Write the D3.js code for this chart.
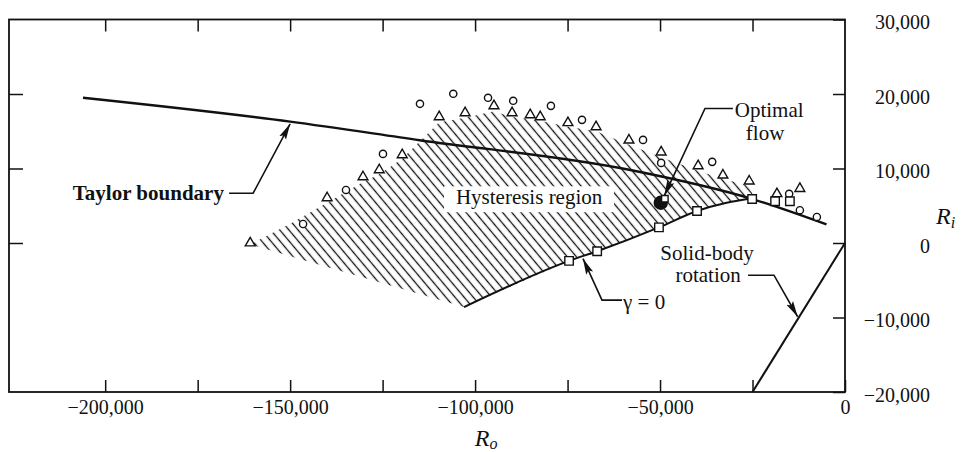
<!DOCTYPE html>
<html lang="en">

<head>
    <meta charset="utf-8" />
    <title>Hysteresis region between Taylor boundary and solid-body rotation</title>
    <script src="https://d3js.org/d3.v7.min.js"></script>
    <style>
        body {
            margin: 0;
            background: #fff;
        }

        svg {
            display: block;
            font-family: "Liberation Serif", "Times New Roman", serif;
        }

        .axis text {
            font-family: "Liberation Serif", "Times New Roman", serif;
            font-size: 20px;
            fill: #111;
        }

        .axis line {
            stroke: #111;
            stroke-width: 1.5;
        }

        .axis .domain {
            display: none;
        }

        .note {
            font-size: 21px;
            fill: #111;
        }
    </style>
</head>

<body>
    <script>
        // Data (R_o, R_i)
        const taylorBoundary = [[-206000, 19500], [-150000, 16300], [-115000, 13800], [-58000, 9800], [-25000, 5900], [-5000, 2500]];
        const gammaZeroCurve = [[-103000, -8600], [-74600, -2400], [-67000, -1100], [-50300, 2100], [-40000, 4300], [-32000, 5400], [-25000, 6000]];
        const solidBody = [[-25000, -20000], [0, 0]];

        const squares = [[-74600, -2400], [-67000, -1100], [-50300, 2100], [-40000, 4300], [-25100, 5900], [-18900, 5600], [-14900, 5600]];
        const triangles = [[-160800, 0], [-140000, 6050], [-130300, 8870], [-125900, 9810], [-119700, 11830], [-109700, 16930],
            [-102700, 17470], [-94900, 18410], [-90000, 17470], [-85100, 17200], [-82400, 16930], [-74900, 16130], [-67300, 15590],
            [-58400, 13800], [-49700, 12200], [-39700, 10350], [-33000, 9100], [-25900, 8300], [-18400, 6600], [-12200, 7300]];
        const circles = [[-146500, 2550], [-134900, 7120], [-124900, 11960], [-114900, 18680], [-105900, 20030], [-96500, 19490],
            [-89700, 19090], [-79500, 18410], [-71100, 16530], [-54600, 13840], [-49700, 10750], [-35900, 10890], [-15100, 6600],
            [-12200, 4400], [-7600, 3500]];
        const optimalFlow = [[-49800, 5400]];
        const optimalSquare = [[-48700, 5950]];

        // upper edge of the hatched hysteresis region
        const hysteresisUpper = [[-160800, -200], [-150000, 2600], [-140000, 5400], [-130300, 8200], [-126000, 9200], [-119700, 11300],
            [-109700, 16200], [-102700, 16800], [-94900, 17700], [-90000, 16900], [-82400, 16400], [-74900, 15600], [-67300, 15000],
            [-58400, 13200], [-49700, 11500], [-39700, 9700], [-33000, 8600], [-25900, 7700], [-24500, 6000]];

        const xTicks = d3.range(-200000, 1, 25000);
        const xLabels = [-200000, -150000, -100000, -50000, 0];
        const yTicks = [30000, 20000, 10000, 0, -10000, -20000];
        const yLeftTicks = [20000, 10000, 0];

        const width = 963;
        const height = 452;
        const plot = { left: 9, right: 845, top: 19.5, bottom: 392 };

        const svg = d3.select("body").append("svg").attr("width", width).attr("height", height);

        const x = d3.scaleLinear().domain([-226000, 0]).range([plot.left, plot.right]);
        const y = d3.scaleLinear().domain([-20000, 30000]).range([plot.bottom, plot.top]);

        const defs = svg.append("defs");
        const hatch = defs.append("pattern")
            .attr("id", "hatch")
            .attr("patternUnits", "userSpaceOnUse")
            .attr("width", 7)
            .attr("height", 7)
            .attr("patternTransform", "rotate(-40)");
        hatch.append("line")
            .attr("x1", 3.5).attr("y1", 0).attr("x2", 3.5).attr("y2", 7)
            .attr("stroke", "#111").attr("stroke-width", 1.3);

        defs.append("marker")
            .attr("id", "arrow")
            .attr("markerUnits", "userSpaceOnUse")
            .attr("viewBox", "0 -5 16 10")
            .attr("refX", 16).attr("refY", 0)
            .attr("markerWidth", 16).attr("markerHeight", 10)
            .attr("orient", "auto")
            .append("path")
            .attr("d", "M0,-3.8L16,0L0,3.8L3,0Z")
            .attr("fill", "#111");

        // Hatched region: upper edge, then back along the gamma = 0 curve
        const region = hysteresisUpper.concat(gammaZeroCurve.slice().reverse());
        const lin = d3.line().x((d) => x(d[0])).y((d) => y(d[1]));
        svg.append("path")
            .attr("d", lin(region) + "Z")
            .attr("fill", "url(#hatch)")
            .attr("stroke", "none");

        // white box behind the region label
        svg.append("rect")
            .attr("x", x(-108400)).attr("y", y(7610))
            .attr("width", x(-62450) - x(-108400))
            .attr("height", y(4130) - y(7610))
            .attr("fill", "#fff");
        svg.append("text").attr("class", "note")
            .attr("x", x(-85400)).attr("y", y(5200))
            .attr("text-anchor", "middle")
            .text("Hysteresis region");

        // curves
        const smooth = d3.line().x((d) => x(d[0])).y((d) => y(d[1])).curve(d3.curveMonotoneX);
        svg.append("path").attr("d", smooth(taylorBoundary))
            .attr("fill", "none").attr("stroke", "#111").attr("stroke-width", 2.4);
        svg.append("path").attr("d", smooth(gammaZeroCurve))
            .attr("fill", "none").attr("stroke", "#111").attr("stroke-width", 2);
        svg.append("path").attr("d", lin(solidBody))
            .attr("fill", "none").attr("stroke", "#111").attr("stroke-width", 2);

        // axes (ticks inward)
        svg.append("g").attr("class", "axis")
            .attr("transform", `translate(0,${plot.bottom})`)
            .call(d3.axisBottom(x).tickValues(xTicks).tickSizeInner(-12).tickSizeOuter(0).tickPadding(8)
                .tickFormat((d) => xLabels.includes(d) ? d3.format(",")(d) : ""));
        svg.append("g").attr("class", "axis")
            .attr("transform", `translate(0,${plot.top})`)
            .call(d3.axisTop(x).tickValues(xTicks.filter((d) => d < 0)).tickSizeInner(-12).tickSizeOuter(0).tickFormat(""));
        const gy = svg.append("g").attr("class", "axis")
            .attr("transform", `translate(${plot.right},0)`)
            .call(d3.axisRight(y).tickValues(yTicks).tickSizeInner(-12).tickSizeOuter(0)
                .tickFormat(d3.format(",")));
        gy.selectAll("text").attr("x", 85).attr("dy", "0.45em").attr("text-anchor", "end");
        svg.append("g").attr("class", "axis")
            .attr("transform", `translate(${plot.left},0)`)
            .call(d3.axisLeft(y).tickValues(yLeftTicks).tickSizeInner(-14).tickSizeOuter(0).tickFormat(""));

        // frame
        svg.append("rect")
            .attr("x", plot.left).attr("y", plot.top)
            .attr("width", plot.right - plot.left).attr("height", plot.bottom - plot.top)
            .attr("fill", "none").attr("stroke", "#111").attr("stroke-width", 1.8);

        // axis titles
        const xt = svg.append("text").attr("x", x(-97000)).attr("y", 446)
            .attr("text-anchor", "middle").attr("font-size", 24).attr("font-style", "italic").attr("fill", "#111");
        xt.append("tspan").text("R");
        xt.append("tspan").attr("font-size", 16).attr("dy", 3).text("o");
        const yt = svg.append("text").attr("x", 936).attr("y", y(2500))
            .attr("font-size", 24).attr("font-style", "italic").attr("fill", "#111");
        yt.append("tspan").text("R");
        yt.append("tspan").attr("font-size", 16).attr("dy", 4).text("i");

        // annotations with leaders
        const leader = (pts) => svg.append("path").attr("d", lin(pts))
            .attr("fill", "none").attr("stroke", "#111").attr("stroke-width", 1.6)
            .attr("marker-end", "url(#arrow)");

        svg.append("text").attr("class", "note")
            .attr("x", x(-167900)).attr("y", y(5740))
            .attr("text-anchor", "end").attr("font-weight", "bold").attr("font-size", 19)
            .text("Taylor boundary");
        leader([[-166500, 6680], [-160000, 6680], [-150000, 16000]]);

        svg.append("text").attr("class", "note")
            .attr("x", x(-20500)).attr("y", y(16850)).attr("text-anchor", "middle").text("Optimal");
        svg.append("text").attr("class", "note")
            .attr("x", x(-21600)).attr("y", y(13780)).attr("text-anchor", "middle").text("flow");
        leader([[-30300, 18060], [-37850, 18060], [-48900, 6300]]);

        svg.append("text").attr("class", "note")
            .attr("x", x(-37300)).attr("y", y(-2300)).attr("text-anchor", "middle").text("Solid-body");
        svg.append("text").attr("class", "note")
            .attr("x", x(-37000)).attr("y", y(-5250)).attr("text-anchor", "middle").text("rotation");
        leader([[-26200, -4320], [-19200, -4320], [-12800, -9900]]);

        svg.append("text").attr("class", "note")
            .attr("x", x(-60000)).attr("y", y(-8870)).text("γ = 0");
        leader([[-60280, -7670], [-65690, -7670], [-70830, -2100]]);

        // data markers
        const marks = svg.append("g").attr("fill", "#fff").attr("stroke", "#111").attr("stroke-width", 1.4);
        marks.selectAll("circle.open").data(circles).join("circle")
            .attr("class", "open")
            .attr("cx", (d) => x(d[0])).attr("cy", (d) => y(d[1])).attr("r", 3.6);
        marks.selectAll("path.tri").data(triangles).join("path")
            .attr("class", "tri")
            .attr("transform", (d) => `translate(${x(d[0])},${y(d[1])})`)
            .attr("d", d3.symbol(d3.symbolTriangle, 42)());
        marks.selectAll("path.sq").data(squares).join("path")
            .attr("class", "sq")
            .attr("transform", (d) => `translate(${x(d[0])},${y(d[1])})`)
            .attr("d", d3.symbol(d3.symbolSquare, 72)());

        marks.selectAll("circle.opt").data(optimalFlow).join("circle")
            .attr("class", "opt")
            .attr("cx", (d) => x(d[0])).attr("cy", (d) => y(d[1])).attr("r", 6.5)
            .attr("fill", "#111");
        marks.selectAll("path.optsq").data(optimalSquare).join("path")
            .attr("class", "optsq")
            .attr("transform", (d) => `translate(${x(d[0])},${y(d[1])})`)
            .attr("d", d3.symbol(d3.symbolSquare, 42)());
    </script>
</body>

</html>
